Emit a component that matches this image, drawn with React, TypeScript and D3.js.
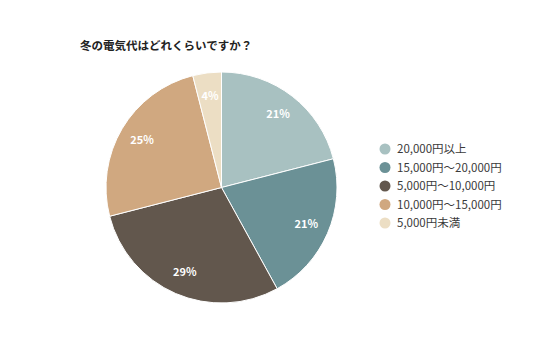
import React from "react";
import * as d3 from "d3";

const categories = ["20,000円以上", "15,000円～20,000円", "5,000円～10,000円", "10,000円～15,000円", "5,000円未満"];
const values = [21, 21, 29, 25, 4];
const colors = ["#a8c1c1", "#6b9196", "#62574d", "#d0a880", "#ecdec4"];
const title = "冬の電気代はどれくらいですか？";

export default function App() {
  const W = 536, H = 357;
  const cx = 221.5, cy = 187.5, r = 115.5;
  const pie = d3.pie<number>().sort(null).value((d) => d)(values);
  const arc = d3.arc<d3.PieArcDatum<number>>().innerRadius(0).outerRadius(r);
  const labelArc = d3.arc<d3.PieArcDatum<number>>().innerRadius(r * 0.8).outerRadius(r * 0.8);
  const total = d3.sum(values);
  const legendY = d3.scaleLinear().domain([0, 1]).range([149, 167.5]);
  const font = "'Noto Sans CJK JP', 'Noto Sans', sans-serif";
  return (
    <svg width={W} height={H} style={{ position: "absolute", left: 0, top: 0 }} fontFamily={font}>
      <rect width={W} height={H} fill="#fff" />
      <text x={80} y={50} fontSize={11.5} fontWeight="bold" fill="#222">{title}</text>
      <g transform={`translate(${cx},${cy})`}>
        {pie.map((p, i) => (
          <path key={i} d={arc(p) || ""} fill={colors[i]} stroke="#fff" strokeWidth={1} />
        ))}
        {pie.map((p, i) => {
          const [x, y] = labelArc.centroid(p);
          return (
            <text key={i} x={x} y={y} dy="0.35em" textAnchor="middle" fontSize={11} fontWeight="bold" fill="#fff">
              {Math.round((p.data / total) * 100)}%
            </text>
          );
        })}
      </g>
      {categories.map((c, i) => (
        <g key={i} transform={`translate(385,${legendY(i)})`}>
          <circle r={5.5} fill={colors[i]} />
          <text x={12} dy="0.35em" fontSize={11.5} fill="#3a3a3a">{c}</text>
        </g>
      ))}
    </svg>
  );
}
